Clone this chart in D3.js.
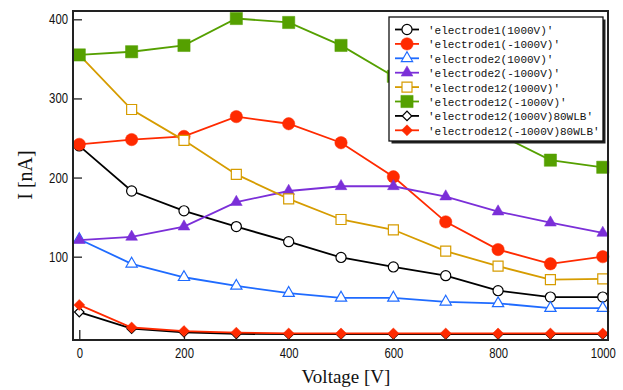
<!DOCTYPE html>
<html>
<head>
<meta charset="utf-8">
<script src="https://cdn.jsdelivr.net/npm/d3@7"></script>
<style>
  body { margin: 0; background: #fff; }
  svg { display: block; }
</style>
</head>
<body>
<div id="chart"></div>
<script>
// voltage steps on the x axis
const voltage = [0, 100, 200, 300, 400, 500, 600, 700, 800, 900, 1000];

// currents in nA, one array per curve
const e1Pos      = [240, 183, 158, 138, 119, 99, 87, 76, 57, 49, 49];
const e1Neg      = [242, 248, 252, 277, 268, 244, 201, 144, 109, 91, 100];
const e2Pos      = [122, 91, 74, 63, 54, 48, 48, 43, 41, 35, 35];
const e2Neg      = [121, 125, 138, 169, 183, 189, 189, 176, 157, 143, 130];
const e12Pos     = [355, 286, 247, 204, 173, 147, 134, 107, 88, 71, 72];
const e12Neg     = [355, 359, 367, 401, 396, 367, 328, 290, 255, 222, 213];
const e12PosWLB  = [30, 9, 4.5, 2.5, 2, 2, 2, 2, 2, 2, 2];
const e12NegWLB  = [39, 10.5, 6, 4, 3, 3, 3, 3, 3, 3, 3];

const legendNames = [
  "'electrode1(1000V)'",
  "'electrode1(-1000V)'",
  "'electrode2(1000V)'",
  "'electrode2(-1000V)'",
  "'electrode12(1000V)'",
  "'electrode12(-1000V)'",
  "'electrode12(1000V)80WLB'",
  "'electrode12(-1000V)80WLB'"
];

const yTicks = [100, 200, 300, 400];
const xTicks = [0, 200, 400, 600, 800, 1000];

const series = [
  { name: legendNames[0], values: e1Pos,     color: '#000000', shape: 'circle',   filled: false, size: 80 },
  { name: legendNames[1], values: e1Neg,     color: '#ff2a00', shape: 'circle',   filled: true,  size: 120 },
  { name: legendNames[2], values: e2Pos,     color: '#1f6bff', shape: 'triangle', filled: false, size: 55 },
  { name: legendNames[3], values: e2Neg,     color: '#7b2fd8', shape: 'triangle', filled: true,  size: 60 },
  { name: legendNames[4], values: e12Pos,    color: '#d69c00', shape: 'square',   filled: false, size: 100 },
  { name: legendNames[5], values: e12Neg,    color: '#55a000', shape: 'square',   filled: true,  size: 150 },
  { name: legendNames[6], values: e12PosWLB, color: '#000000', shape: 'diamond',  filled: false, size: 45 },
  { name: legendNames[7], values: e12NegWLB, color: '#ff2a00', shape: 'diamond',  filled: true,  size: 60 }
];

const width = 623, height = 390;
const plot = { left: 73, top: 11, right: 608, bottom: 340 };

const svg = d3.select('#chart')
  .append('svg')
  .attr('width', width)
  .attr('height', height);

const x = d3.scaleLinear()
  .domain([-12, 1010])
  .range([plot.left, plot.right]);

const y = d3.scaleLinear()
  .domain([-5.3, 410.5])
  .range([plot.bottom, plot.top]);

function symbolPath(shape, size) {
  const types = {
    circle: d3.symbolCircle,
    triangle: d3.symbolTriangle,
    square: d3.symbolSquare,
    diamond: d3.symbolSquare
  };
  return d3.symbol().type(types[shape]).size(size)();
}

function drawMarker(g, s, cx, cy) {
  g.append('path')
    .attr('d', symbolPath(s.shape, s.size))
    .attr('transform', `translate(${cx}, ${cy})` + (s.shape === 'diamond' ? ' rotate(45)' : ''))
    .attr('fill', s.filled ? s.color : '#fff')
    .attr('stroke', s.color)
    .attr('stroke-width', s.filled ? 0.5 : 1.2);
}

// axes: ticks pointing inward, narrow digits
const yAxis = svg.append('g')
  .attr('transform', `translate(${plot.left}, 0)`)
  .call(d3.axisLeft(y).tickValues(yTicks).tickSize(-9).tickPadding(5).tickFormat(d3.format('d')));
const xAxis = svg.append('g')
  .attr('transform', `translate(0, ${plot.bottom})`)
  .call(d3.axisBottom(x).tickValues(xTicks).tickSize(-10).tickPadding(8).tickFormat(d3.format('d')));

[yAxis, xAxis].forEach(a => {
  a.select('.domain').remove();
  a.selectAll('line').attr('stroke', '#222').attr('stroke-width', 1.3);
  a.selectAll('text')
    .attr('fill', '#111')
    .style('font-family', '"Liberation Sans", Arial, sans-serif')
    .style('font-size', '14px')
    .attr('textLength', d => String(d).length * 6.3)
    .attr('lengthAdjust', 'spacingAndGlyphs');
});

// curves
const line = d3.line()
  .x((d, i) => x(voltage[i]))
  .y(d => y(d));

series.forEach(s => {
  const g = svg.append('g').attr('class', 'series');
  g.append('path')
    .attr('d', line(s.values))
    .attr('fill', 'none')
    .attr('stroke', s.color)
    .attr('stroke-width', 1.8);
  s.values.forEach((v, i) => drawMarker(g, s, x(voltage[i]), y(v)));
});

// frame
svg.append('rect')
  .attr('x', plot.left)
  .attr('y', plot.top)
  .attr('width', plot.right - plot.left)
  .attr('height', plot.bottom - plot.top)
  .attr('fill', 'none')
  .attr('stroke', '#222')
  .attr('stroke-width', 2);

// axis titles
svg.append('text')
  .attr('x', 346)
  .attr('y', 383)
  .attr('text-anchor', 'middle')
  .style('font-family', '"Liberation Serif", "Times New Roman", serif')
  .style('font-size', '19px')
  .attr('fill', '#111')
  .text('Voltage [V]');

svg.append('text')
  .attr('transform', 'translate(32, 175) rotate(-90)')
  .attr('text-anchor', 'middle')
  .style('font-family', '"Liberation Serif", "Times New Roman", serif')
  .style('font-size', '20px')
  .attr('fill', '#111')
  .text('I [nA]');

// legend
const lg = { x: 389, y: 17, w: 214, h: 124, row: 14.4 };
const legend = svg.append('g');
legend.append('rect')
  .attr('x', lg.x + 2.5)
  .attr('y', lg.y + 2.5)
  .attr('width', lg.w)
  .attr('height', lg.h)
  .attr('fill', '#222');
legend.append('rect')
  .attr('x', lg.x)
  .attr('y', lg.y)
  .attr('width', lg.w)
  .attr('height', lg.h)
  .attr('fill', '#fff')
  .attr('stroke', '#111')
  .attr('stroke-width', 1.3);

series.forEach((s, i) => {
  const cy = lg.y + 12.5 + i * lg.row;
  legend.append('line')
    .attr('x1', lg.x + 6)
    .attr('x2', lg.x + 30)
    .attr('y1', cy)
    .attr('y2', cy)
    .attr('stroke', s.color)
    .attr('stroke-width', 1.8);
  drawMarker(legend, s, lg.x + 18, cy);
  legend.append('text')
    .attr('x', lg.x + 39)
    .attr('y', cy + 4.5)
    .style('font-family', '"Liberation Mono", "DejaVu Sans Mono", monospace')
    .style('font-size', '11px')
    .attr('fill', '#111')
    .text(s.name);
});
</script>
</body>
</html>
